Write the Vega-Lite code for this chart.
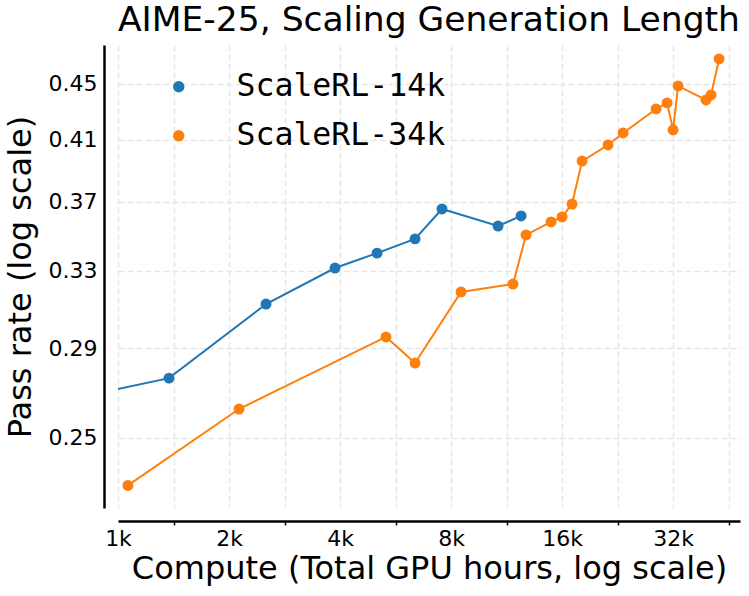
{
  "$schema": "https://vega.github.io/schema/vega-lite/v6.json",
  "width": 622,
  "height": 463,
  "autosize": {"type": "none"},
  "padding": {"left": 118, "top": 45, "right": 9, "bottom": 88},
  "background": "white",
  "config": {
    "view": {"stroke": null},
    "font": "DejaVu Sans"
  },
  "title": {
    "text": "AIME-25, Scaling Generation Length",
    "font": "DejaVu Sans",
    "fontSize": 34.5,
    "fontWeight": "normal",
    "color": "black",
    "anchor": "middle",
    "frame": "group",
    "baseline": "alphabetic",
    "offset": -20
  },
  "data": {
    "values": [
      {"series": "ScaleRL-14k", "gpu_hours": 900, "pass_rate": 0.2695},
      {"series": "ScaleRL-14k", "gpu_hours": 1375, "pass_rate": 0.2761},
      {"series": "ScaleRL-14k", "gpu_hours": 2520, "pass_rate": 0.3122},
      {"series": "ScaleRL-14k", "gpu_hours": 3877, "pass_rate": 0.3314},
      {"series": "ScaleRL-14k", "gpu_hours": 5040, "pass_rate": 0.3397},
      {"series": "ScaleRL-14k", "gpu_hours": 6390, "pass_rate": 0.3478},
      {"series": "ScaleRL-14k", "gpu_hours": 7560, "pass_rate": 0.3655},
      {"series": "ScaleRL-14k", "gpu_hours": 10730, "pass_rate": 0.3553},
      {"series": "ScaleRL-14k", "gpu_hours": 12390, "pass_rate": 0.3613},
      {"series": "ScaleRL-34k", "gpu_hours": 1064, "pass_rate": 0.2311},
      {"series": "ScaleRL-34k", "gpu_hours": 2129, "pass_rate": 0.2623},
      {"series": "ScaleRL-34k", "gpu_hours": 5330, "pass_rate": 0.2956},
      {"series": "ScaleRL-34k", "gpu_hours": 6390, "pass_rate": 0.2831},
      {"series": "ScaleRL-34k", "gpu_hours": 8515, "pass_rate": 0.3185},
      {"series": "ScaleRL-34k", "gpu_hours": 11780, "pass_rate": 0.3227},
      {"series": "ScaleRL-34k", "gpu_hours": 12780, "pass_rate": 0.3501},
      {"series": "ScaleRL-34k", "gpu_hours": 14940, "pass_rate": 0.3577},
      {"series": "ScaleRL-34k", "gpu_hours": 16000, "pass_rate": 0.3607},
      {"series": "ScaleRL-34k", "gpu_hours": 17030, "pass_rate": 0.3685},
      {"series": "ScaleRL-34k", "gpu_hours": 18130, "pass_rate": 0.3957},
      {"series": "ScaleRL-34k", "gpu_hours": 21320, "pass_rate": 0.4064},
      {"series": "ScaleRL-34k", "gpu_hours": 23420, "pass_rate": 0.4146},
      {"series": "ScaleRL-34k", "gpu_hours": 28780, "pass_rate": 0.4314},
      {"series": "ScaleRL-34k", "gpu_hours": 30820, "pass_rate": 0.4358},
      {"series": "ScaleRL-34k", "gpu_hours": 32000, "pass_rate": 0.4167},
      {"series": "ScaleRL-34k", "gpu_hours": 33020, "pass_rate": 0.4482},
      {"series": "ScaleRL-34k", "gpu_hours": 39320, "pass_rate": 0.4379},
      {"series": "ScaleRL-34k", "gpu_hours": 40560, "pass_rate": 0.4416},
      {"series": "ScaleRL-34k", "gpu_hours": 42650, "pass_rate": 0.4687}
    ]
  },
  "encoding": {
    "x": {
      "field": "gpu_hours",
      "type": "quantitative",
      "scale": {"type": "log", "base": 2, "domain": [1000, 48600], "nice": false, "zero": false},
      "axis": {
        "title": "Compute (Total GPU hours, log scale)",
        "titleFont": "DejaVu Sans",
        "titleFontSize": 32,
        "titleFontWeight": "normal",
        "titleColor": "black",
        "titlePadding": 4,
        "offset": 13,
        "values": [1000, 1414.2, 2000, 2828.4, 4000, 5656.9, 8000, 11313.7, 16000, 22627.4, 32000, 45254.8],
        "labelExpr": "abs(log(datum.value/1000)/LN2 - round(log(datum.value/1000)/LN2)) < 0.01 ? round(datum.value/1000) + 'k' : ''",
        "labelFont": "DejaVu Sans",
        "labelFontSize": 22,
        "labelColor": "black",
        "labelFlush": false,
        "labelOverlap": false,
        "labelPadding": 3,
        "domain": true,
        "domainColor": "black",
        "domainWidth": 2.5,
        "ticks": true,
        "tickSize": 4,
        "tickWidth": 1.5,
        "tickColor": "black",
        "tickOpacity": {"condition": {"test": "abs(log(datum.value/1000)/LN2 - round(log(datum.value/1000)/LN2)) < 0.01", "value": 0}, "value": 1},
        "grid": true,
        "gridColor": "#e6e6e6",
        "gridDash": [6, 3],
        "gridWidth": 1.5
      }
    },
    "y": {
      "field": "pass_rate",
      "type": "quantitative",
      "scale": {"type": "log", "domain": [0.2226, 0.4797], "nice": false, "zero": false},
      "axis": {
        "title": "Pass rate (log scale)",
        "titleFont": "DejaVu Sans",
        "titleFontSize": 32,
        "titleFontWeight": "normal",
        "titleColor": "black",
        "titlePadding": 11,
        "offset": 14,
        "values": [0.25, 0.29, 0.33, 0.37, 0.41, 0.45],
        "format": ".2f",
        "labelFont": "DejaVu Sans",
        "labelFontSize": 22,
        "labelColor": "black",
        "labelPadding": 7,
        "domain": true,
        "domainColor": "black",
        "domainWidth": 2.5,
        "ticks": false,
        "grid": true,
        "gridColor": "#e6e6e6",
        "gridDash": [6, 3],
        "gridWidth": 1.5
      }
    }
  },
  "layer": [
    {
      "transform": [{"filter": "datum.series === 'ScaleRL-14k'"}],
      "mark": {"type": "line", "strokeWidth": 2, "clip": true, "color": "#1f77b4"},
      "encoding": {}
    },
    {
      "transform": [{"filter": "datum.series === 'ScaleRL-34k'"}],
      "mark": {"type": "line", "strokeWidth": 2, "clip": true, "color": "#ff7f0e"},
      "encoding": {}
    },
    {
      "mark": {"type": "point", "filled": true, "size": 120, "opacity": 1, "clip": true},
      "encoding": {
        "color": {
          "field": "series",
          "type": "nominal",
          "scale": {"domain": ["ScaleRL-14k", "ScaleRL-34k"], "range": ["#1f77b4", "#ff7f0e"]},
          "legend": {
            "title": null,
            "orient": "none",
            "legendX": 45,
            "legendY": 26,
            "padding": 0,
            "symbolType": "circle",
            "symbolSize": 130,
            "symbolStrokeWidth": 0,
            "symbolOpacity": 1,
            "labelFont": "DejaVu Sans Mono",
            "labelFontSize": 31.5,
            "labelColor": "black",
            "labelOffset": 42,
            "rowPadding": 16,
            "labelLimit": 400
          }
        }
      }
    }
  ]
}
